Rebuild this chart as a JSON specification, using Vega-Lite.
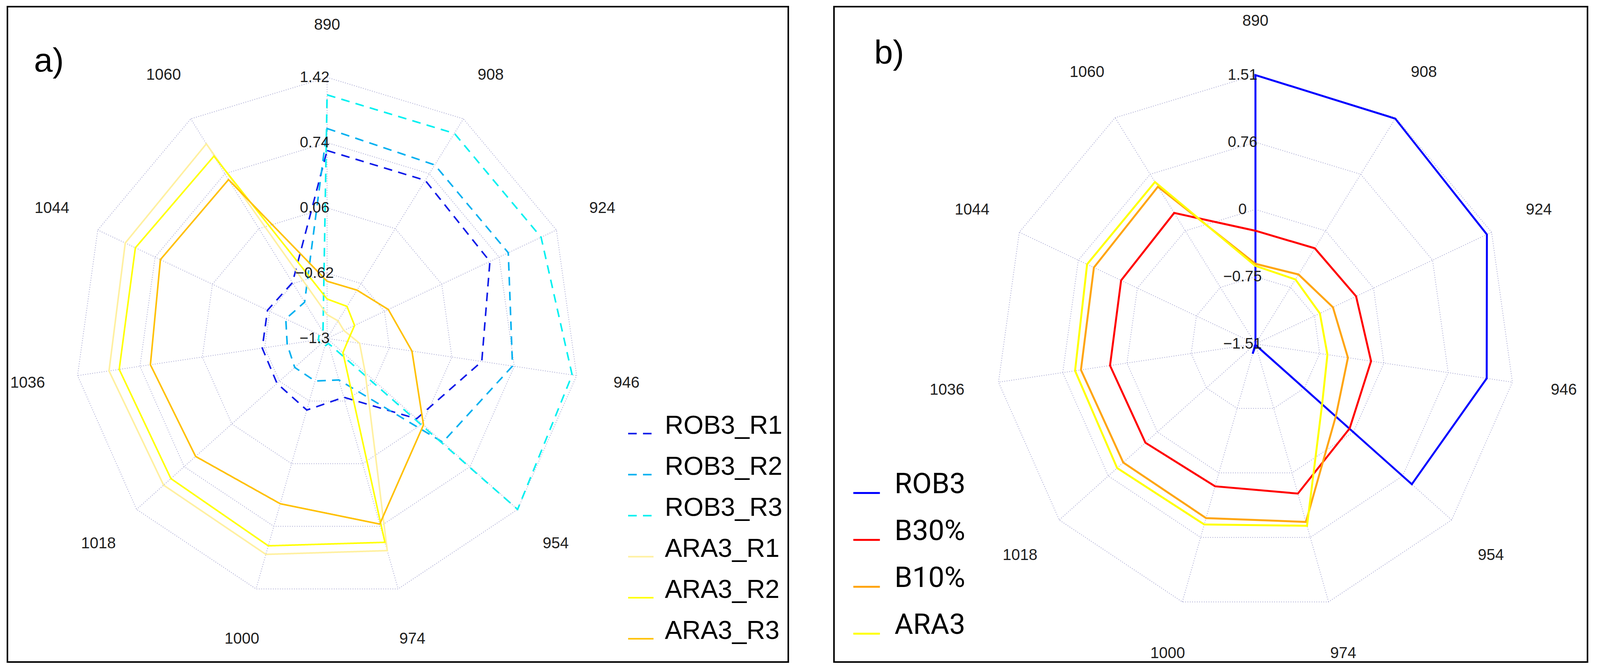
{
  "$schema": "https://vega.github.io/schema/vega-lite/v6.json",
  "padding": {"left": 17, "top": 15, "right": 0, "bottom": 0},
  "background": "white",
  "config": {"view": {"stroke": "black", "strokeWidth": 4}, "font": "Liberation Sans"},
  "spacing": 113,
  "resolve": {
    "scale": {"x": "independent", "y": "independent", "color": "independent", "strokeDash": "independent"},
    "legend": {"color": "independent", "strokeDash": "independent"}
  },
  "datasets": {
    "axes": [
      {"k": 0, "w": "890"}, {"k": 1, "w": "908"}, {"k": 2, "w": "924"}, {"k": 3, "w": "946"},
      {"k": 4, "w": "954"}, {"k": 5, "w": "974"}, {"k": 6, "w": "1000"}, {"k": 7, "w": "1018"},
      {"k": 8, "w": "1036"}, {"k": 9, "w": "1044"}, {"k": 10, "w": "1060"}
    ],
    "ticksA": [
      {"t": -1.3, "lab": "−1.3", "k": [0,1,2,3,4,5,6,7,8,9,10]},
      {"t": -0.62, "lab": "−0.62", "k": [0,1,2,3,4,5,6,7,8,9,10]},
      {"t": 0.06, "lab": "0.06", "k": [0,1,2,3,4,5,6,7,8,9,10]},
      {"t": 0.74, "lab": "0.74", "k": [0,1,2,3,4,5,6,7,8,9,10]},
      {"t": 1.42, "lab": "1.42", "k": [0,1,2,3,4,5,6,7,8,9,10]}
    ],
    "ticksB": [
      {"t": -1.51, "lab": "−1.51", "k": [0,1,2,3,4,5,6,7,8,9,10]},
      {"t": -0.755, "lab": "−0.75", "k": [0,1,2,3,4,5,6,7,8,9,10]},
      {"t": 0, "lab": "0", "k": [0,1,2,3,4,5,6,7,8,9,10]},
      {"t": 0.755, "lab": "0.76", "k": [0,1,2,3,4,5,6,7,8,9,10]},
      {"t": 1.51, "lab": "1.51", "k": [0,1,2,3,4,5,6,7,8,9,10]}
    ],
    "serA": [
      {"s": "ROB3_R1", "k": 0, "v": 0.658}, {"s": "ROB3_R1", "k": 1, "v": 0.658}, {"s": "ROB3_R1", "k": 2, "v": 0.631},
      {"s": "ROB3_R1", "k": 3, "v": 0.386}, {"s": "ROB3_R1", "k": 4, "v": -0.022}, {"s": "ROB3_R1", "k": 5, "v": -0.661},
      {"s": "ROB3_R1", "k": 6, "v": -0.522}, {"s": "ROB3_R1", "k": 7, "v": -0.585}, {"s": "ROB3_R1", "k": 8, "v": -0.593},
      {"s": "ROB3_R1", "k": 9, "v": -0.593}, {"s": "ROB3_R1", "k": 10, "v": -0.609},
      {"s": "ROB3_R2", "k": 0, "v": 0.887}, {"s": "ROB3_R2", "k": 1, "v": 0.849}, {"s": "ROB3_R2", "k": 2, "v": 0.849},
      {"s": "ROB3_R2", "k": 3, "v": 0.721}, {"s": "ROB3_R2", "k": 4, "v": 0.351}, {"s": "ROB3_R2", "k": 5, "v": -0.849},
      {"s": "ROB3_R2", "k": 6, "v": -0.838}, {"s": "ROB3_R2", "k": 7, "v": -0.838}, {"s": "ROB3_R2", "k": 8, "v": -0.865},
      {"s": "ROB3_R2", "k": 9, "v": -0.81}, {"s": "ROB3_R2", "k": 10, "v": -0.851},
      {"s": "ROB3_R3", "k": 0, "v": 1.238}, {"s": "ROB3_R3", "k": 1, "v": 1.24}, {"s": "ROB3_R3", "k": 2, "v": 1.238},
      {"s": "ROB3_R3", "k": 3, "v": 1.371}, {"s": "ROB3_R3", "k": 4, "v": 1.42}, {"s": "ROB3_R3", "k": 5, "v": -1.246},
      {"s": "ROB3_R3", "k": 6, "v": -1.218}, {"s": "ROB3_R3", "k": 7, "v": -1.205}, {"s": "ROB3_R3", "k": 8, "v": -1.205},
      {"s": "ROB3_R3", "k": 9, "v": -1.205}, {"s": "ROB3_R3", "k": 10, "v": -1.218},
      {"s": "ARA3_R1", "k": 0, "v": -1.052}, {"s": "ARA3_R1", "k": 1, "v": -1.082}, {"s": "ARA3_R1", "k": 2, "v": -1.101},
      {"s": "ARA3_R1", "k": 3, "v": -0.946}, {"s": "ARA3_R1", "k": 4, "v": -0.756}, {"s": "ARA3_R1", "k": 5, "v": 1.004},
      {"s": "ARA3_R1", "k": 6, "v": 1.045}, {"s": "ARA3_R1", "k": 7, "v": 1.034}, {"s": "ARA3_R1", "k": 8, "v": 1.077},
      {"s": "ARA3_R1", "k": 9, "v": 1.094}, {"s": "ARA3_R1", "k": 10, "v": 1.11},
      {"s": "ARA3_R2", "k": 0, "v": -0.889}, {"s": "ARA3_R2", "k": 1, "v": -0.903}, {"s": "ARA3_R2", "k": 2, "v": -0.974},
      {"s": "ARA3_R2", "k": 3, "v": -1.077}, {"s": "ARA3_R2", "k": 4, "v": -1.074}, {"s": "ARA3_R2", "k": 5, "v": 0.914},
      {"s": "ARA3_R2", "k": 6, "v": 0.952}, {"s": "ARA3_R2", "k": 7, "v": 0.93}, {"s": "ARA3_R2", "k": 8, "v": 0.966},
      {"s": "ARA3_R2", "k": 9, "v": 0.974}, {"s": "ARA3_R2", "k": 10, "v": 0.958},
      {"s": "ARA3_R3", "k": 0, "v": -0.704}, {"s": "ARA3_R3", "k": 1, "v": -0.702}, {"s": "ARA3_R3", "k": 2, "v": -0.574},
      {"s": "ARA3_R3", "k": 3, "v": -0.375}, {"s": "ARA3_R3", "k": 4, "v": 0.076}, {"s": "ARA3_R3", "k": 5, "v": 0.716},
      {"s": "ARA3_R3", "k": 6, "v": 0.495}, {"s": "ARA3_R3", "k": 7, "v": 0.577}, {"s": "ARA3_R3", "k": 8, "v": 0.626},
      {"s": "ARA3_R3", "k": 9, "v": 0.677}, {"s": "ARA3_R3", "k": 10, "v": 0.667}
    ],
    "serB": [
      {"s": "ROB3", "k": 0, "v": 1.51}, {"s": "ROB3", "k": 1, "v": 1.498}, {"s": "ROB3", "k": 2, "v": 1.45},
      {"s": "ROB3", "k": 3, "v": 1.208}, {"s": "ROB3", "k": 4, "v": 0.897}, {"s": "ROB3", "k": 5, "v": -1.495},
      {"s": "ROB3", "k": 6, "v": -1.395}, {"s": "ROB3", "k": 7, "v": -1.51}, {"s": "ROB3", "k": 8, "v": -1.51},
      {"s": "ROB3", "k": 9, "v": -1.51}, {"s": "ROB3", "k": 10, "v": -1.51},
      {"s": "B30%", "k": 0, "v": -0.239}, {"s": "B30%", "k": 1, "v": -0.233}, {"s": "B30%", "k": 2, "v": -0.223},
      {"s": "B30%", "k": 3, "v": -0.151}, {"s": "B30%", "k": 4, "v": -0.06}, {"s": "B30%", "k": 5, "v": 0.242},
      {"s": "B30%", "k": 6, "v": 0.157}, {"s": "B30%", "k": 7, "v": 0.184}, {"s": "B30%", "k": 8, "v": 0.199},
      {"s": "B30%", "k": 9, "v": 0.208}, {"s": "B30%", "k": 10, "v": 0.239},
      {"s": "B10%", "k": 0, "v": -0.61}, {"s": "B10%", "k": 1, "v": -0.583}, {"s": "B10%", "k": 2, "v": -0.519},
      {"s": "B10%", "k": 3, "v": -0.423}, {"s": "B10%", "k": 4, "v": -0.272}, {"s": "B10%", "k": 5, "v": 0.574},
      {"s": "B10%", "k": 6, "v": 0.529}, {"s": "B10%", "k": 7, "v": 0.525}, {"s": "B10%", "k": 8, "v": 0.541},
      {"s": "B10%", "k": 9, "v": 0.556}, {"s": "B10%", "k": 10, "v": 0.589},
      {"s": "ARA3", "k": 0, "v": -0.634}, {"s": "ARA3", "k": 1, "v": -0.649}, {"s": "ARA3", "k": 2, "v": -0.686},
      {"s": "ARA3", "k": 3, "v": -0.664}, {"s": "ARA3", "k": 4, "v": -0.483}, {"s": "ARA3", "k": 5, "v": 0.619},
      {"s": "ARA3", "k": 6, "v": 0.604}, {"s": "ARA3", "k": 7, "v": 0.619}, {"s": "ARA3", "k": 8, "v": 0.61},
      {"s": "ARA3", "k": 9, "v": 0.643}, {"s": "ARA3", "k": 10, "v": 0.652}
    ]
  },
  "hconcat": [
    {
      "width": 1999,
      "height": 1677,
      "title": {"text": "a)", "anchor": "start", "frame": "group", "offset": -252, "dx": 68, "fontSize": 86, "font": "Liberation Sans", "fontWeight": "normal", "color": "black", "baseline": "alphabetic"},
      "encoding": {
        "x": {"field": "px", "type": "quantitative", "axis": null, "scale": {"domain": [-1.268, 1.8293], "nice": false, "zero": false}},
        "y": {"field": "py", "type": "quantitative", "axis": null, "scale": {"domain": [-1.2395, 1.271], "nice": false, "zero": false}}
      },
      "layer": [
        {
          "data": {"name": "ticksA"},
          "transform": [
            {"flatten": ["k"]},
            {"calculate": "(datum.t + 1.3) / 2.72", "as": "r"},
            {"calculate": "datum.k * 2 * PI / 11", "as": "th"},
            {"calculate": "datum.r * sin(datum.th)", "as": "px"},
            {"calculate": "datum.r * cos(datum.th)", "as": "py"}
          ],
          "mark": {"type": "line", "interpolate": "linear-closed", "stroke": "#aaaad2", "strokeWidth": 2, "strokeDash": [2, 4]},
          "encoding": {"detail": {"field": "t", "type": "nominal"}, "order": {"field": "k", "type": "quantitative"}}
        },
        {
          "data": {"name": "ticksA"},
          "transform": [
            {"flatten": ["k"]},
            {"calculate": "(datum.t + 1.3) / 2.72", "as": "r"},
            {"calculate": "datum.k * 2 * PI / 11", "as": "th"},
            {"calculate": "datum.r * sin(datum.th)", "as": "px"},
            {"calculate": "datum.r * cos(datum.th)", "as": "py"}
          ],
          "mark": {"type": "line", "stroke": "#aaaad2", "strokeWidth": 2, "strokeDash": [2, 4]},
          "encoding": {"detail": {"field": "k", "type": "nominal"}, "order": {"field": "t", "type": "quantitative"}}
        },
        {
          "data": {"name": "serA"},
          "transform": [
            {"calculate": "(datum.v + 1.3) / 2.72", "as": "r"},
            {"calculate": "datum.k * 2 * PI / 11", "as": "th"},
            {"calculate": "datum.r * sin(datum.th)", "as": "px"},
            {"calculate": "datum.r * cos(datum.th)", "as": "py"}
          ],
          "mark": {"type": "line", "interpolate": "linear-closed", "strokeWidth": 4},
          "encoding": {
            "order": {"field": "k", "type": "quantitative"},
            "color": {
              "field": "s", "type": "nominal",
              "scale": {"domain": ["ROB3_R1", "ROB3_R2", "ROB3_R3", "ARA3_R1", "ARA3_R2", "ARA3_R3"], "range": ["#0d1ae8", "#00b0f0", "#00f0f0", "#fff0a0", "#ffff00", "#ffc000"]},
              "legend": {"orient": "none", "legendX": 1587, "legendY": 1058, "direction": "vertical", "title": null, "symbolType": "stroke", "symbolSize": 4225, "symbolStrokeWidth": 4, "labelFontSize": 66, "labelFont": "Liberation Sans", "labelColor": "black", "rowPadding": 38, "labelOffset": 27, "labelBaseline": "alphabetic", "labelLimit": 1000}
            },
            "strokeDash": {
              "field": "s", "type": "nominal",
              "scale": {"domain": ["ROB3_R1", "ROB3_R2", "ROB3_R3", "ARA3_R1", "ARA3_R2", "ARA3_R3"], "range": [[22, 16], [22, 16], [22, 16], [1, 0], [1, 0], [1, 0]]},
              "legend": {"orient": "none", "legendX": 1587, "legendY": 1058, "direction": "vertical", "title": null, "symbolType": "stroke", "symbolSize": 4225, "symbolStrokeWidth": 4, "labelFontSize": 66, "labelFont": "Liberation Sans", "labelColor": "black", "rowPadding": 38, "labelOffset": 27, "labelBaseline": "alphabetic", "labelLimit": 1000}
            }
          }
        },
        {
          "data": {"name": "axes"},
          "transform": [
            {"calculate": "datum.k * 2 * PI / 11", "as": "th"},
            {"calculate": "1.2 * sin(datum.th)", "as": "px"},
            {"calculate": "1.2 * cos(datum.th)", "as": "py"}
          ],
          "mark": {"type": "text", "fontSize": 40, "font": "Liberation Sans", "color": "#1e1e1e", "align": "center", "baseline": "middle"},
          "encoding": {"text": {"field": "w", "type": "nominal"}}
        },
        {
          "data": {"name": "ticksA"},
          "transform": [
            {"calculate": "(datum.t + 1.3) / 2.72", "as": "py"},
            {"calculate": "0", "as": "px"}
          ],
          "mark": {"type": "text", "fontSize": 39, "font": "Liberation Sans", "dx": -32, "color": "#1e1e1e", "align": "center", "baseline": "middle"},
          "encoding": {"text": {"field": "lab", "type": "nominal"}}
        }
      ]
    },
    {
      "width": 1929,
      "height": 1677,
      "title": {"text": "b)", "anchor": "start", "frame": "group", "offset": -232, "dx": 103, "fontSize": 86, "font": "Liberation Sans", "fontWeight": "normal", "color": "black", "baseline": "alphabetic"},
      "encoding": {
        "x": {"field": "px", "type": "quantitative", "axis": null, "scale": {"domain": [-1.6235, 1.2791], "nice": false, "zero": false}},
        "y": {"field": "py", "type": "quantitative", "axis": null, "scale": {"domain": [-1.1831, 1.2544], "nice": false, "zero": false}}
      },
      "layer": [
        {
          "data": {"name": "ticksB"},
          "transform": [
            {"flatten": ["k"]},
            {"calculate": "(datum.t + 1.51) / 3.02", "as": "r"},
            {"calculate": "datum.k * 2 * PI / 11", "as": "th"},
            {"calculate": "datum.r * sin(datum.th)", "as": "px"},
            {"calculate": "datum.r * cos(datum.th)", "as": "py"}
          ],
          "mark": {"type": "line", "interpolate": "linear-closed", "stroke": "#aaaad2", "strokeWidth": 2, "strokeDash": [2, 4]},
          "encoding": {"detail": {"field": "t", "type": "nominal"}, "order": {"field": "k", "type": "quantitative"}}
        },
        {
          "data": {"name": "ticksB"},
          "transform": [
            {"flatten": ["k"]},
            {"calculate": "(datum.t + 1.51) / 3.02", "as": "r"},
            {"calculate": "datum.k * 2 * PI / 11", "as": "th"},
            {"calculate": "datum.r * sin(datum.th)", "as": "px"},
            {"calculate": "datum.r * cos(datum.th)", "as": "py"}
          ],
          "mark": {"type": "line", "stroke": "#aaaad2", "strokeWidth": 2, "strokeDash": [2, 4]},
          "encoding": {"detail": {"field": "k", "type": "nominal"}, "order": {"field": "t", "type": "quantitative"}}
        },
        {
          "data": {"name": "serB"},
          "transform": [
            {"calculate": "(datum.v + 1.51) / 3.02", "as": "r"},
            {"calculate": "datum.k * 2 * PI / 11", "as": "th"},
            {"calculate": "datum.r * sin(datum.th)", "as": "px"},
            {"calculate": "datum.r * cos(datum.th)", "as": "py"}
          ],
          "mark": {"type": "line", "interpolate": "linear-closed", "strokeWidth": 5},
          "encoding": {
            "order": {"field": "k", "type": "quantitative"},
            "color": {
              "field": "s", "type": "nominal",
              "scale": {"domain": ["ROB3", "B30%", "B10%", "ARA3"], "range": ["#0000ff", "#ff0000", "#ffa510", "#ffff00"]},
              "legend": {"orient": "none", "legendX": 47, "legendY": 1208, "direction": "vertical", "title": null, "symbolType": "stroke", "symbolSize": 4624, "symbolStrokeWidth": 5, "labelFontSize": 73, "labelFont": "Roboto", "labelColor": "black", "rowPadding": 46, "labelOffset": 35, "labelBaseline": "alphabetic", "labelLimit": 1000}
            }
          }
        },
        {
          "data": {"name": "axes"},
          "transform": [
            {"calculate": "datum.k * 2 * PI / 11", "as": "th"},
            {"calculate": "1.2 * sin(datum.th)", "as": "px"},
            {"calculate": "1.2 * cos(datum.th)", "as": "py"}
          ],
          "mark": {"type": "text", "fontSize": 40, "font": "Liberation Sans", "color": "#1e1e1e", "align": "center", "baseline": "middle"},
          "encoding": {"text": {"field": "w", "type": "nominal"}}
        },
        {
          "data": {"name": "ticksB"},
          "transform": [
            {"calculate": "(datum.t + 1.51) / 3.02", "as": "py"},
            {"calculate": "0", "as": "px"}
          ],
          "mark": {"type": "text", "fontSize": 39, "font": "Liberation Sans", "dx": -33, "color": "#1e1e1e", "align": "center", "baseline": "middle"},
          "encoding": {"text": {"field": "lab", "type": "nominal"}}
        }
      ]
    }
  ]
}
